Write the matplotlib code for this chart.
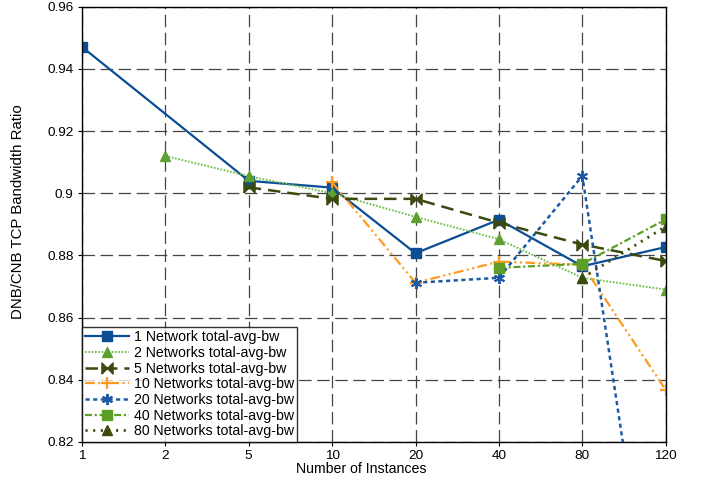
import numpy as np
import matplotlib.pyplot as plt
from matplotlib.path import Path

plt.rcParams['font.family'] = ['Liberation Sans', 'DejaVu Sans']
plt.rcParams['lines.scale_dashes'] = False

instances = ['1', '2', '5', '10', '20', '40', '80', '120']

# values per series, None where that series has no point
net1 = [0.9471, None, 0.9040, 0.9018, 0.8807, 0.8915, 0.8765, 0.8827]
net2 = [None, 0.9120, 0.9055, 0.9000, 0.8924, 0.8852, 0.8728, 0.8690]
net5 = [None, None, 0.9019, 0.8982, 0.8982, 0.8905, 0.8835, 0.8782]
net10 = [None, None, None, 0.9035, 0.8712, 0.8780, 0.8770, 0.8367]
net20 = [None, None, None, None, 0.8712, 0.8728, 0.9056, 0.7290]
net40 = [None, None, None, None, None, 0.8760, 0.8773, 0.8916]
net80 = [None, None, None, None, None, None, 0.8728, 0.8893]

labels = ['1 Network total-avg-bw', '2 Networks total-avg-bw',
          '5 Networks total-avg-bw', '10 Networks total-avg-bw',
          '20 Networks total-avg-bw', '40 Networks total-avg-bw',
          '80 Networks total-avg-bw']

bowtie = Path([(-1, -1), (-1, 1), (0, 0), (1, 1), (1, -1), (0, 0), (-1, -1)])

styles = [
    dict(color='#0B4E96', ls='-', lw=1.6, marker='s', ms=7),
    dict(color='#6DBE45', ls=(0, (1.2, 1.2)), lw=1.4, marker='^', ms=7, mfc='#5FA032', mec='#5FA032'),
    dict(color='#3B4A0E', ls=(0, (9, 5)), lw=1.8, marker=bowtie, ms=8),
    dict(color='#FF9A1F', ls=(0, (7, 2.5, 1.5, 2.5, 1.5, 2.5)), lw=1.6, marker='+', ms=9, mew=1.6),
    dict(color='#1C5AA3', ls=(0, (3, 2.5)), lw=1.8, marker=(6, 2, 0), ms=8, mew=1.4),
    dict(color='#5C9E26', ls=(0, (5, 2, 1.5, 2)), lw=1.6, marker='s', ms=7),
    dict(color='#3B4A0E', ls=(0, (1.5, 4)), lw=2.0, marker='^', ms=7),
]

fig = plt.figure(figsize=(7.06, 4.84), dpi=100)
ax = fig.add_axes([0.116, 0.087, 0.827, 0.899])

x = np.arange(len(instances))
for vals, lab, st in zip([net1, net2, net5, net10, net20, net40, net80], labels, styles):
    xs = [xi for xi, v in zip(x, vals) if v is not None]
    ys = [v for v in vals if v is not None]
    ax.plot(xs, ys, label=lab, **st)

ax.set_xlim(0, len(instances) - 1)
ax.set_ylim(0.82, 0.96)
ax.set_xticks(x)
ax.set_xticklabels(instances)
ax.set_yticks([0.82, 0.84, 0.86, 0.88, 0.9, 0.92, 0.94, 0.96])
ax.set_yticklabels(['0.82', '0.84', '0.86', '0.88', '0.9', '0.92', '0.94', '0.96'])
ax.tick_params(direction='out', length=3, labelsize=9.7, pad=3)
ax.grid(True, color='#444444', lw=0.9, ls=(0, (9, 4)))
ax.set_axisbelow(True)
for sp in ax.spines.values():
    sp.set_linewidth(1.0)

ax.set_xlabel('Number of Instances', fontsize=10.2, va='top')
ax.xaxis.set_label_coords(0.479, -0.046)
ax.set_ylabel('DNB/CNB TCP Bandwidth Ratio', fontsize=10.8)
ax.yaxis.set_label_coords(-0.097, 0.529)

leg = ax.legend(loc='lower left', fontsize=10.2, frameon=True, fancybox=False,
                borderaxespad=0, handlelength=3.1, labelspacing=0.12,
                handletextpad=0.3, borderpad=0.25)
leg.get_frame().set_edgecolor('black')
leg.get_frame().set_linewidth(1.0)

plt.savefig('out.png', dpi=100)
